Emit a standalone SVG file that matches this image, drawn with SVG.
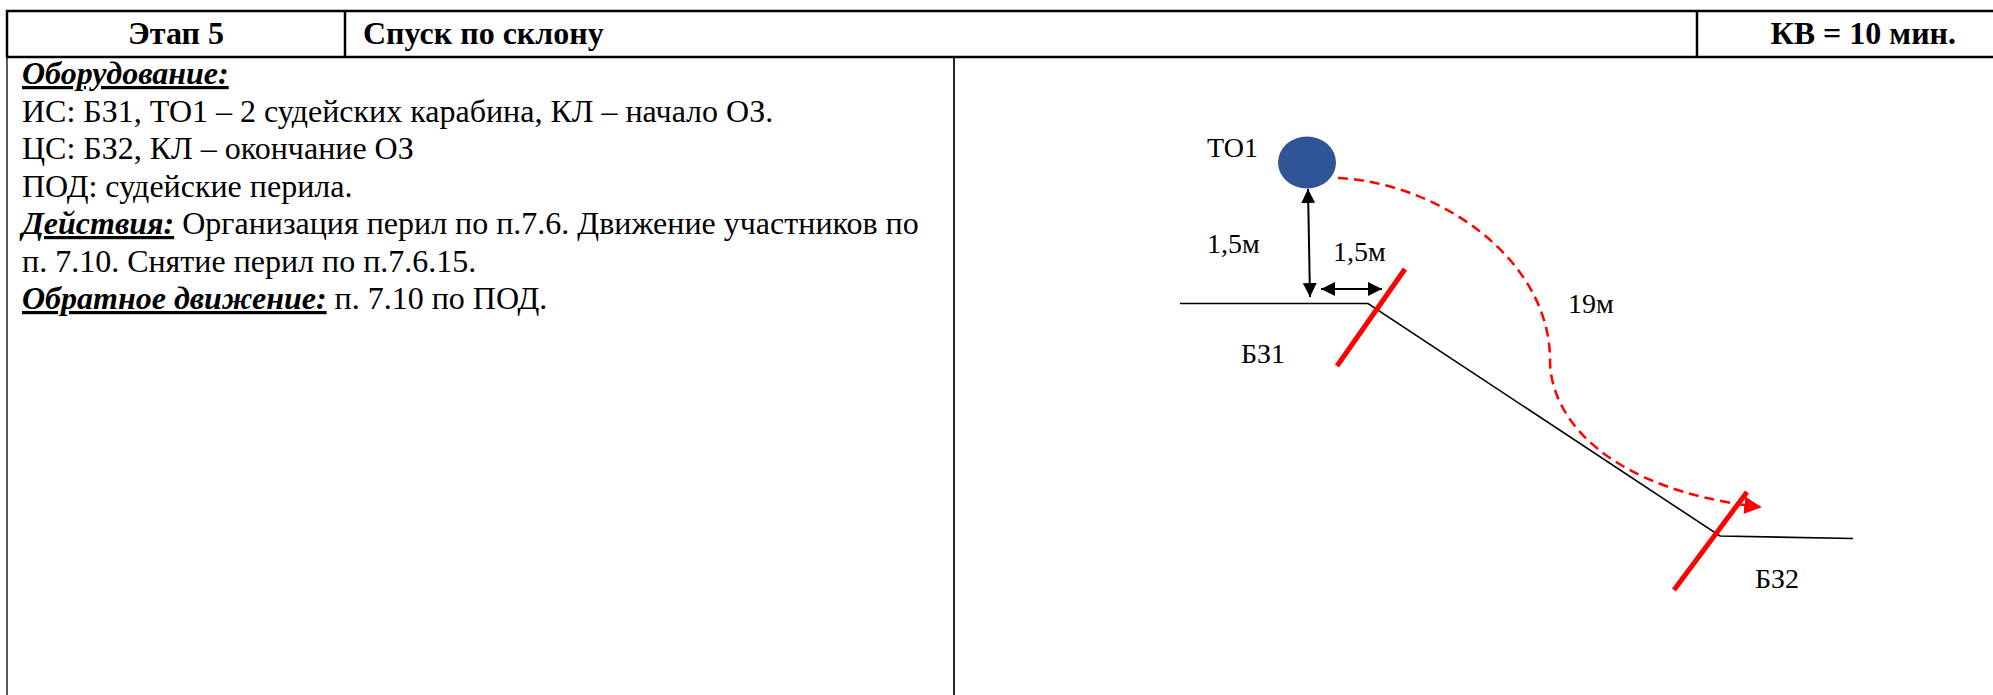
<svg xmlns="http://www.w3.org/2000/svg" width="1993" height="695" viewBox="0 0 1993 695">
<style>
.hdr{font-family:"Liberation Serif","Times New Roman",serif;font-size:32px;font-weight:bold;fill:#000}
.body{font-family:"Liberation Serif","Times New Roman",serif;font-size:32px;fill:#000}
.lbl{font-weight:bold;font-style:italic;text-decoration:underline}
.dg{font-family:"Liberation Serif","Times New Roman",serif;font-size:28px;fill:#000}
.tb{stroke:#000;fill:none}
.blk{stroke:#000;stroke-width:2;fill:none}
.gnd{stroke:#000;stroke-width:1.6;fill:none}
.bz{stroke:#FF0000;stroke-width:5;fill:none}
</style>
<defs>
<marker id="ah" viewBox="0 0 10 10" refX="10" refY="5" markerWidth="7" markerHeight="7" markerUnits="strokeWidth" orient="auto-start-reverse">
<path d="M0,0 L10,5 L0,10 z" fill="#000"/>
</marker>
<marker id="rh" viewBox="0 0 10 10" refX="9" refY="5" markerWidth="7" markerHeight="7" markerUnits="strokeWidth" orient="auto">
<path d="M0,0 L10,5 L0,10 z" fill="#FF0000"/>
</marker>
</defs>
<rect width="1993" height="695" fill="#fff"/>
<g id="table">
<line class="tb" stroke-width="2.5" x1="6" y1="11" x2="1993" y2="11"/>
<line class="tb" stroke-width="2.5" x1="6" y1="57" x2="1993" y2="57"/>
<line class="tb" stroke-width="2.5" x1="7" y1="10" x2="7" y2="57"/>
<line class="tb" stroke-width="2.5" x1="345" y1="10" x2="345" y2="57"/>
<line class="tb" stroke-width="2.5" x1="1697" y1="10" x2="1697" y2="57"/>
<line class="tb" stroke-width="1.3" x1="7" y1="57" x2="7" y2="695"/>
<line class="tb" stroke-width="1.7" x1="954" y1="57" x2="954" y2="695"/>
</g>
<g id="header">
<text class="hdr" x="176" y="44" text-anchor="middle">Этап 5</text>
<text class="hdr" x="363" y="44">Спуск по склону</text>
<text class="hdr" x="1956" y="44" text-anchor="end">КВ = 10 мин.</text>
</g>
<g id="description" class="body">
<text x="22" y="84"><tspan class="lbl">Оборудование:</tspan></text>
<text x="22" y="121.5">ИС: БЗ1, ТО1 – 2 судейских карабина, КЛ – начало ОЗ.</text>
<text x="22" y="159">ЦС: БЗ2, КЛ – окончание ОЗ</text>
<text x="22" y="196.5">ПОД: судейские перила.</text>
<text x="22" y="234"><tspan class="lbl">Действия:</tspan> Организация перил по п.7.6. Движение участников по</text>
<text x="22" y="271.5">п. 7.10. Снятие перил по п.7.6.15.</text>
<text x="22" y="309"><tspan class="lbl">Обратное движение:</tspan> п. 7.10 по ПОД.</text>
</g>
<g id="connectors">
<polyline class="gnd" points="1180,303.5 1368,303.5 1720,536 1853,538.5"/>
<line class="blk" x1="1308" y1="189" x2="1310" y2="297" marker-start="url(#ah)" marker-end="url(#ah)"/>
<line class="blk" x1="1321" y1="289" x2="1382" y2="289" marker-start="url(#ah)" marker-end="url(#ah)"/>
<path d="M1338,178 C1440,183 1550,260 1550,360 C1550,420 1610,490 1760,507" fill="none" stroke="#FF0000" stroke-width="2.5" stroke-dasharray="10 6" marker-end="url(#rh)"/>
</g>
<g id="TO1">
<ellipse cx="1307" cy="162.5" rx="29" ry="26" fill="#2F5597"/>
<text class="dg" x="1207" y="157">ТО1</text>
</g>
<g id="BZ1">
<line class="bz" x1="1405" y1="269" x2="1337" y2="366"/>
<text class="dg" x="1241" y="363">БЗ1</text>
</g>
<g id="BZ2">
<line class="bz" x1="1747" y1="492" x2="1674" y2="590"/>
<text class="dg" x="1755" y="588">БЗ2</text>
</g>
<g id="labels">
<text class="dg" x="1207" y="253">1,5м</text>
<text class="dg" x="1333" y="261">1,5м</text>
<text class="dg" x="1568" y="313">19м</text>
</g>
</svg>
